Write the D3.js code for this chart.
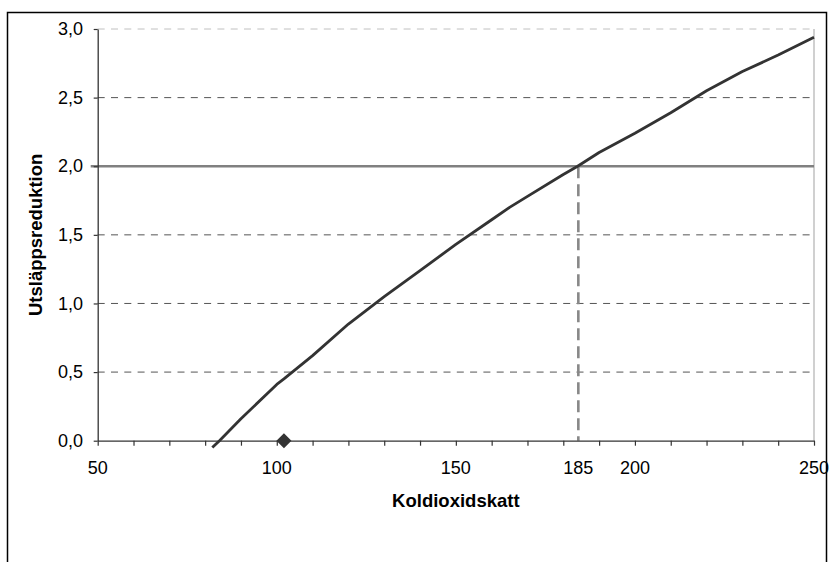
<!DOCTYPE html>
<html>
<head>
<meta charset="utf-8">
<script src="https://cdn.jsdelivr.net/npm/d3@7"></script>
<style>
  html, body { margin: 0; padding: 0; background: #fff; }
  svg { display: block; }
  text { font-family: Arial, "Liberation Sans", sans-serif; fill: #000; }
</style>
</head>
<body>
<svg id="chart" width="830" height="562"></svg>
<script>
// ---- Data ----
const taxValues = [82, 84, 90, 100, 102, 110, 120, 130, 140, 150, 160, 165, 170, 180, 184, 190, 200, 210, 220, 230, 240, 250];
const reductionValues = [-0.05, 0.0, 0.16, 0.41, 0.45, 0.62, 0.85, 1.05, 1.24, 1.43, 1.61, 1.70, 1.78, 1.94, 2.0, 2.10, 2.24, 2.39, 2.55, 2.69, 2.81, 2.94];
const markerTax = [102];
const markerReduction = [0];
const targetReduction = 2.0;
const targetTax = 184.2;
const targetTaxLabel = "185";
const xTickValues = [50, 60, 70, 80, 90, 100, 110, 120, 130, 140, 150, 160, 170, 180, 190, 200, 210, 220, 230, 240, 250];
const xTickLabels = ["50", "100", "150", "200", "250"];
const yTickValues = [0, 0.5, 1.0, 1.5, 2.0, 2.5, 3.0];
const xTitle = "Koldioxidskatt";
const yTitle = "Utsläppsreduktion";

// ---- Layout ----
const L = 97.7, R = 814, T = 29, B = 440.7;
const svg = d3.select("#chart");

const x = d3.scaleLinear().domain([50, 250]).range([L, R]);
const y = d3.scaleLinear().domain([0, 3]).range([B, T]);
const fmt = v => d3.format(".1f")(v).replace(".", ",");

// outer frame
svg.append("rect")
  .attr("x", 7.5).attr("y", 12.5).attr("width", 819).attr("height", 560)
  .attr("fill", "none").attr("stroke", "#000").attr("stroke-width", 1.5);

// gridlines
svg.append("g").selectAll("line")
  .data(yTickValues.filter(v => v > 0))
  .join("line")
  .attr("x1", L).attr("x2", R)
  .attr("y1", d => y(d)).attr("y2", d => y(d))
  .attr("stroke", d => d === 3 ? "#c0c0c0" : "#555")
  .attr("stroke-width", 1)
  .attr("stroke-dasharray", "7,6.3");

// right border of plot area
svg.append("line")
  .attr("x1", R).attr("x2", R).attr("y1", T).attr("y2", B)
  .attr("stroke", "#c0c0c0").attr("stroke-width", 1.5);

// target horizontal line
svg.append("line")
  .attr("x1", L - 7).attr("x2", R)
  .attr("y1", y(targetReduction)).attr("y2", y(targetReduction))
  .attr("stroke", "#808080").attr("stroke-width", 2.6);

// vertical dashed line at target tax
svg.append("line")
  .attr("x1", x(targetTax)).attr("x2", x(targetTax))
  .attr("y1", y(targetReduction)).attr("y2", B)
  .attr("stroke", "#888").attr("stroke-width", 2.6)
  .attr("stroke-dasharray", "12,6");

// axes
const xAxis = svg.append("g")
  .attr("transform", `translate(0,${B})`)
  .call(d3.axisBottom(x).tickValues(xTickValues).tickSize(5).tickSizeOuter(0).tickFormat(""));
xAxis.select(".domain").attr("stroke", "#333").attr("stroke-width", 1.3);
xAxis.selectAll(".tick line").attr("stroke", "#333").attr("stroke-width", 1.2);

const yAxis = svg.append("g")
  .attr("transform", `translate(${L},0)`)
  .call(d3.axisLeft(y).tickValues(yTickValues).tickSize(4).tickSizeOuter(0).tickPadding(10.7).tickFormat(fmt));
yAxis.select(".domain").attr("stroke", "#333").attr("stroke-width", 1.3);
yAxis.selectAll(".tick line").attr("stroke", "#333").attr("stroke-width", 1.2);
yAxis.selectAll(".tick text")
  .style("font-family", 'Arial, "Liberation Sans", sans-serif')
  .style("font-size", "18px").attr("fill", "#000");

// x tick labels
svg.append("g").selectAll("text")
  .data(xTickLabels)
  .join("text")
  .attr("x", d => x(+d)).attr("y", 473.5)
  .attr("text-anchor", "middle")
  .style("font-size", "18px")
  .text(d => d);
svg.append("text")
  .attr("x", x(targetTax)).attr("y", 473.5)
  .attr("text-anchor", "middle")
  .style("font-size", "18px")
  .text(targetTaxLabel);

// curve
const line = d3.line().x(d => x(d[0])).y(d => y(d[1]));
svg.append("path")
  .datum(taxValues.map((t, i) => [t, reductionValues[i]]))
  .attr("d", line)
  .attr("fill", "none").attr("stroke", "#333").attr("stroke-width", 2.8)
  .attr("stroke-linejoin", "round");

// diamond marker
svg.append("g").selectAll("path")
  .data(markerTax.map((t, i) => [t, markerReduction[i]]))
  .join("path")
  .attr("transform", d => `translate(${x(d[0])},${y(d[1])})`)
  .attr("d", "M0,-7.5L7.5,0L0,7.5L-7.5,0Z")
  .attr("fill", "#333");

// titles
svg.append("text")
  .attr("x", (L + R) / 2).attr("y", 507)
  .attr("text-anchor", "middle")
  .style("font-size", "18.5px").style("font-weight", "bold")
  .text(xTitle);
svg.append("text")
  .attr("transform", `translate(42,${(T + B) / 2}) rotate(-90)`)
  .attr("text-anchor", "middle")
  .style("font-size", "18.5px").style("font-weight", "bold")
  .text(yTitle);
</script>
</body>
</html>
